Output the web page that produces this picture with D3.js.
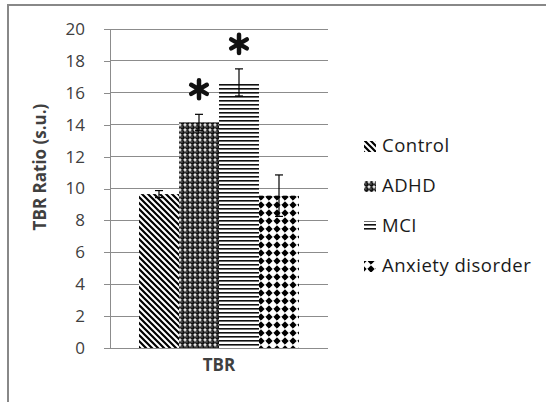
<!DOCTYPE html>
<html><head><meta charset="utf-8">
<script src="https://cdn.jsdelivr.net/npm/d3@7"></script>
<style>body{margin:0;background:#fff}svg{display:block}</style>
</head><body>
<svg id="c" width="546" height="402"></svg>
<script>
const categories = ["TBR"];
const series = ["Control", "ADHD", "MCI", "Anxiety disorder"];
const values = [9.65, 14.15, 16.65, 9.55];
const errors = [0.22, 0.5, 0.85, 1.3];
const significant = [false, true, true, false];
const yTicks = [0, 2, 4, 6, 8, 10, 12, 14, 16, 18, 20];

const svg = d3.select("#c");
const font = "'Open Sans', Lato, sans-serif";
const plotLeft = 110, plotRight = 328, plotTop = 29, plotBottom = 348;

const defs = svg.append("defs");
// Control: downward diagonal
const p0 = defs.append("pattern").attr("id","pat0").attr("patternUnits","userSpaceOnUse")
  .attr("width",6).attr("height",6);
p0.append("rect").attr("width",6).attr("height",6).attr("fill","#fff");
p0.append("path").attr("d","M-1,-1L7,7M-4,2L2,8M4,-2L8,2").attr("stroke","#000").attr("stroke-width",2.2);
// ADHD: spheres
const p1 = defs.append("pattern").attr("id","pat1").attr("patternUnits","userSpaceOnUse")
  .attr("width",5).attr("height",5);
p1.append("rect").attr("width",5).attr("height",5).attr("fill","#fff");
p1.append("circle").attr("cx",2.5).attr("cy",2.5).attr("r",2.4).attr("fill","#111");
p1.append("circle").attr("cx",1.9).attr("cy",1.9).attr("r",0.6).attr("fill","#aaa");
// MCI: horizontal lines
const p2 = defs.append("pattern").attr("id","pat2").attr("patternUnits","userSpaceOnUse")
  .attr("width",4).attr("height",4);
p2.append("rect").attr("width",4).attr("height",4).attr("fill","#fff");
p2.append("rect").attr("y",0).attr("width",4).attr("height",1.6).attr("fill","#111");
// Anxiety: diamonds
const p3 = defs.append("pattern").attr("id","pat3").attr("patternUnits","userSpaceOnUse")
  .attr("width",8).attr("height",8).attr("x",3).attr("y",1);
p3.append("rect").attr("width",8).attr("height",8).attr("fill","#fff");
p3.append("path").attr("d","M4,0.8L7.2,4L4,7.2L0.8,4Z").attr("fill","#000").attr("stroke","#000").attr("stroke-width",1).attr("stroke-linejoin","round");

// frame
svg.append("rect").attr("x",8).attr("y",5).attr("width",700).attr("height",600)
  .attr("fill","none").attr("stroke","#888").attr("stroke-width",2);

const y = d3.scaleLinear().domain([0,20]).range([plotBottom, plotTop]);
const x0 = d3.scaleBand().domain(categories).range([plotLeft, plotRight]);
const x1 = d3.scaleBand().domain(series).range([0, x0.bandwidth()]).paddingOuter(0.725);

// gridlines
svg.append("g").selectAll("line").data(yTicks).join("line")
  .attr("x1",plotLeft).attr("x2",plotRight).attr("y1",d=>y(d)).attr("y2",d=>y(d))
  .attr("stroke","#8c8c8c").attr("stroke-width",1).attr("shape-rendering","crispEdges");

// y axis
const yAxis = svg.append("g").attr("transform",`translate(${plotLeft},0)`)
  .call(d3.axisLeft(y).tickValues(yTicks).tickSize(6).tickPadding(19));
yAxis.select(".domain").attr("stroke","#8c8c8c").attr("shape-rendering","crispEdges");
yAxis.selectAll(".tick line").attr("stroke","#8c8c8c").attr("shape-rendering","crispEdges");
yAxis.selectAll("text").attr("font-family",font).attr("font-size",17).attr("fill","#404040");

// bars
const g = svg.append("g").attr("transform",`translate(${x0("TBR")},0)`);
g.selectAll("rect").data(series).join("rect")
  .attr("x",d=>x1(d)).attr("width",x1.bandwidth())
  .attr("y",(d,i)=>y(values[i])).attr("height",(d,i)=>y(0)-y(values[i]))
  .attr("fill",(d,i)=>`url(#pat${i})`);

// error bars
const eb = g.selectAll("g.err").data(series).join("g").attr("class","err");
eb.append("line").attr("x1",d=>x1(d)+x1.bandwidth()/2).attr("x2",d=>x1(d)+x1.bandwidth()/2)
  .attr("y1",(d,i)=>y(values[i]+errors[i])).attr("y2",(d,i)=>y(values[i]-errors[i]))
  .attr("stroke","#000").attr("stroke-width",1.2);
[1,-1].forEach(s=>{
  eb.append("line").attr("x1",d=>x1(d)+x1.bandwidth()/2-4).attr("x2",d=>x1(d)+x1.bandwidth()/2+4)
    .attr("y1",(d,i)=>y(values[i]+s*errors[i])).attr("y2",(d,i)=>y(values[i]+s*errors[i]))
    .attr("stroke","#000").attr("stroke-width",1.2);
});

// asterisks
const ast = d3.symbol().type(d3.symbolAsterisk).size(230);
g.selectAll("path.ast").data(series.filter((d,i)=>significant[i])).join("path").attr("class","ast")
  .attr("d",ast)
  .attr("transform",d=>{const i=series.indexOf(d);return `translate(${x1(d)+x1.bandwidth()/2},${y(values[i]+errors[i])-25})`;})
  .attr("fill","none").attr("stroke","#111").attr("stroke-width",4.5).attr("stroke-linecap","round");

// x label
svg.append("text").attr("x",x0("TBR")+x0.bandwidth()/2).attr("y",371).attr("text-anchor","middle")
  .attr("font-family",font).attr("font-weight","bold").attr("font-size",17).attr("fill","#404040").text(categories[0]);

// y title
svg.append("text").attr("transform","translate(46,167) rotate(-90)").attr("text-anchor","middle")
  .attr("font-family",font).attr("font-weight","bold").attr("font-size",17).attr("fill","#404040").text("TBR Ratio (s.u.)");

// legend
const lg = svg.append("g").selectAll("g").data(series).join("g")
  .attr("transform",(d,i)=>`translate(364,${152+i*40})`);
lg.append("rect").attr("x",0).attr("y",-11).attr("width",12).attr("height",11)
  .attr("fill",(d,i)=>`url(#pat${i})`);
lg.append("text").attr("x",18).attr("y",0).attr("font-family",font).attr("font-size",18.5)
  .attr("letter-spacing",0.5).attr("fill","#1a1a1a").text(d=>d);
</script>
</body></html>
